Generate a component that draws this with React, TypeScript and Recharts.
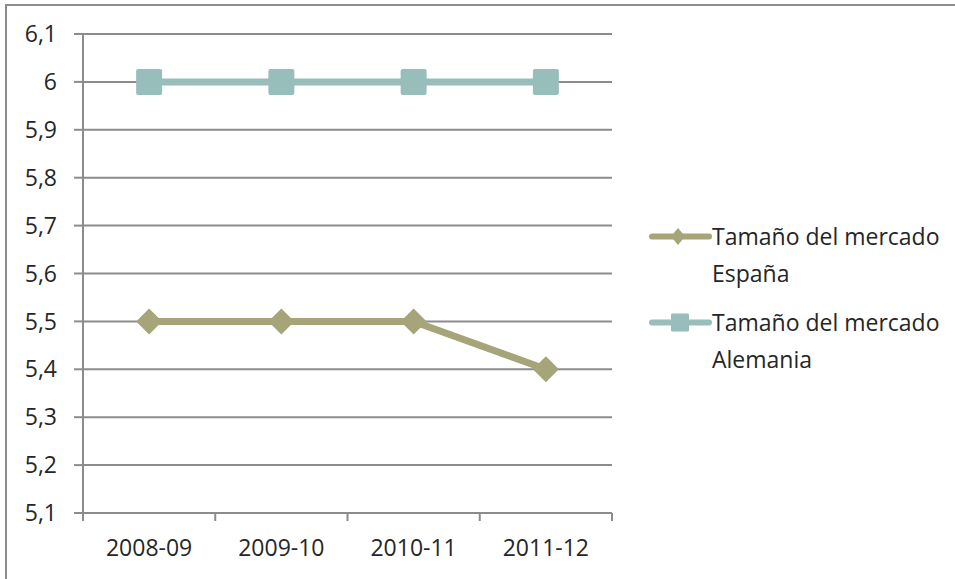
import React from 'react';
import { LineChart, Line, XAxis, YAxis, CartesianGrid, Legend } from 'recharts';

const categories = ['2008-09', '2009-10', '2010-11', '2011-12'];
const espana = [5.5, 5.5, 5.5, 5.4];
const alemania = [6, 6, 6, 6];
const yTicks = [5.1, 5.2, 5.3, 5.4, 5.5, 5.6, 5.7, 5.8, 5.9, 6.0, 6.1];
const nameEspana = 'Tamaño del mercado España';
const nameAlemania = 'Tamaño del mercado Alemania';
const legendOrder = ['espana', 'alemania'];

const data = categories.map((c, i) => ({ cat: c, espana: espana[i], alemania: alemania[i] }));

const FONT = '"Open Sans", "Noto Sans", sans-serif';
const TEXT = '#262626';
const GRID = '#8c8c8c';
const C_ESP = '#a6a479';
const C_ALE = '#98bebb';

const W = 955;
const H = 579;
const PLOT_LEFT = 83;
const PLOT_RIGHT = 612;
const BAND = (PLOT_RIGHT - PLOT_LEFT) / categories.length;

const Diamond = (props: any) => {
  const { cx, cy } = props;
  if (cx == null || cy == null) return null;
  const r = 13;
  return <polygon points={`${cx},${cy - r} ${cx + r},${cy} ${cx},${cy + r} ${cx - r},${cy}`} fill={C_ESP} />;
};

const Square = (props: any) => {
  const { cx, cy } = props;
  if (cx == null || cy == null) return null;
  const r = 13;
  return <rect x={cx - r} y={cy - r} width={2 * r} height={2 * r} rx={2} fill={C_ALE} />;
};

const XTick = (props: any) => {
  const { x, y, payload, index } = props;
  const half = BAND / 2;
  return (
    <g>
      {index === 0 && <line x1={x - half} x2={x - half} y1={y} y2={y + 8} stroke={GRID} strokeWidth={2} />}
      <line x1={x + half} x2={x + half} y1={y} y2={y + 8} stroke={GRID} strokeWidth={2} />
      <text x={x} y={y + 43} textAnchor="middle" fontFamily={FONT} fontSize={23} fill={TEXT}>
        {payload.value}
      </text>
    </g>
  );
};

const renderLegend = (props: any) => {
  const payload = [...(props.payload || [])].sort(
    (a: any, b: any) => legendOrder.indexOf(a.dataKey) - legendOrder.indexOf(b.dataKey)
  );
  return (
    <div style={{ width: 300, fontFamily: FONT, fontSize: 23, color: TEXT, lineHeight: '37px' }}>
      {payload.map((entry: any) => {
        const isEsp = entry.dataKey === 'espana';
        const col = isEsp ? C_ESP : C_ALE;
        return (
          <div key={entry.value} style={{ display: 'flex', alignItems: 'flex-start', marginBottom: 12 }}>
            <svg width={72} height={37} style={{ flex: 'none' }}>
              <line x1={12} x2={69} y1={18.5} y2={18.5} stroke={col} strokeWidth={6} strokeLinecap="round" />
              {isEsp ? (
                <polygon points={`38,10 45,18.5 38,27 31,18.5`} fill={col} />
              ) : (
                <rect x={31} y={9.5} width={18} height={18} rx={1} fill={col} />
              )}
            </svg>
            <span style={{ width: 240 }}>{entry.value}</span>
          </div>
        );
      })}
    </div>
  );
};

export default function App() {
  return (
    <div style={{ position: 'absolute', left: 0, top: 0, width: W, height: H, overflow: 'hidden', background: '#fff' }}>
      <div style={{ position: 'absolute', left: 5, top: 4, width: 1200, height: 1200, border: `2px solid ${GRID}` }} />
      <div style={{ position: 'absolute', left: 0, top: 0 }}>
        <LineChart width={W} height={H} data={data} margin={{ top: 34, right: 43, bottom: 26, left: 23 }}>
          <CartesianGrid vertical={false} stroke={GRID} strokeWidth={2} />
          <XAxis
            dataKey="cat"
            scale="band"
            height={40}
            axisLine={{ stroke: GRID, strokeWidth: 2 }}
            tickLine={false}
            tickSize={0}
            tickMargin={0}
            tick={<XTick />}
            interval={0}
          />
          <YAxis
            width={60}
            domain={[5.1, 6.1]}
            ticks={yTicks}
            interval={0}
            axisLine={{ stroke: GRID, strokeWidth: 2 }}
            tickLine={{ stroke: GRID, strokeWidth: 2 }}
            tickSize={9}
            tickMargin={17}
            tick={{ fontFamily: FONT, fontSize: 23, fill: TEXT }}
            tickFormatter={(v: number) => String(Math.round(v * 10) / 10).replace('.', ',')}
          />
          <Legend
            layout="vertical"
            align="right"
            verticalAlign="top"
            wrapperStyle={{ left: 640, top: 218, width: 300 }}
            content={renderLegend}
          />
          <Line
            type="linear"
            dataKey="espana"
            name={nameEspana}
            stroke={C_ESP}
            strokeWidth={7}
            dot={<Diamond />}
            activeDot={false}
            isAnimationActive={false}
          />
          <Line
            type="linear"
            dataKey="alemania"
            name={nameAlemania}
            stroke={C_ALE}
            strokeWidth={7}
            dot={<Square />}
            activeDot={false}
            isAnimationActive={false}
          />
        </LineChart>
      </div>
    </div>
  );
}
